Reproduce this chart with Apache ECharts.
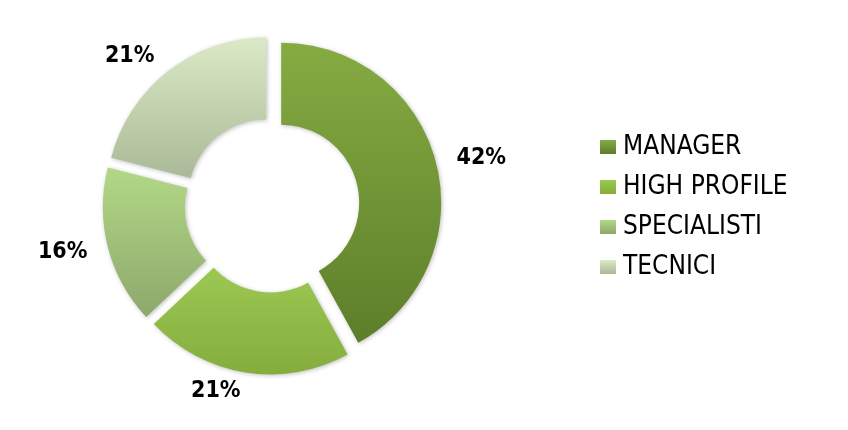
<!DOCTYPE html>
<html>
<head>
<meta charset="utf-8">
<script src="https://cdn.jsdelivr.net/npm/echarts@6/dist/echarts.min.js"></script>
<style>
html,body{margin:0;padding:0;background:#fff;}
#chart{width:848px;height:430px;}
</style>
</head>
<body>
<div id="chart"></div>
<script>
var categories = ['MANAGER', 'HIGH PROFILE', 'SPECIALISTI', 'TECNICI'];
var values = [42, 21, 16, 21];
var labels = ['42%', '21%', '16%', '21%'];

var palette = [
  ['#86ab42', '#5d7e2a'],
  ['#9cc852', '#84ad3e'],
  ['#b2d886', '#8ea86c'],
  ['#dbe9c6', '#aab997']
];

var CX = 272, CY = 205, R_IN = 78, R_OUT = 160, OFFSET = 9.5;

var data = categories.map(function (name, i) {
  return {
    name: name,
    value: values[i],
    selected: true,
    itemStyle: {
      color: {
        type: 'linear', x: 0, y: 0, x2: 0, y2: 1,
        colorStops: [{ offset: 0, color: palette[i][0] }, { offset: 1, color: palette[i][1] }]
      }
    }
  };
});

var chart = echarts.init(document.getElementById('chart'), null, { renderer: 'canvas' });
chart.setOption({
  animation: false,
  backgroundColor: '#ffffff',
  legend: {
    orient: 'vertical',
    left: 595,
    top: 129,
    itemWidth: 16,
    itemHeight: 14,
    itemGap: 14,
    icon: 'rect',
    selectedMode: false,
    textStyle: {
      fontFamily: '"DejaVu Sans Condensed", "DejaVu Sans", sans-serif',
      fontSize: 26,
      lineHeight: 26,
      color: '#000000',
      padding: [0, 0, 0, 2]
    },
    itemStyle: { borderWidth: 0 },
    data: categories
  },
  series: [{
    type: 'pie',
    center: [CX, CY],
    radius: [R_IN, R_OUT],
    startAngle: 90,
    clockwise: true,
    selectedMode: 'multiple',
    selectedOffset: OFFSET,
    avoidLabelOverlap: false,
    emphasis: { disabled: true },
    itemStyle: {
      borderWidth: 0,
      shadowBlur: 4,
      shadowColor: 'rgba(0,0,0,0.25)',
      shadowOffsetX: 1,
      shadowOffsetY: 1
    },
    label: {
      show: true,
      position: 'outside',
      formatter: function (p) { return labels[p.dataIndex]; },
      fontFamily: '"DejaVu Sans Condensed", "DejaVu Sans", sans-serif',
      fontWeight: 'bold',
      fontSize: 23,
      color: '#000000',
      distanceToLabelLine: 0
    },
    labelLine: { show: true, length: 19, length2: 2, lineStyle: { color: 'rgba(0,0,0,0)', width: 0 } },
    data: data
  }]
});
</script>
</body>
</html>
